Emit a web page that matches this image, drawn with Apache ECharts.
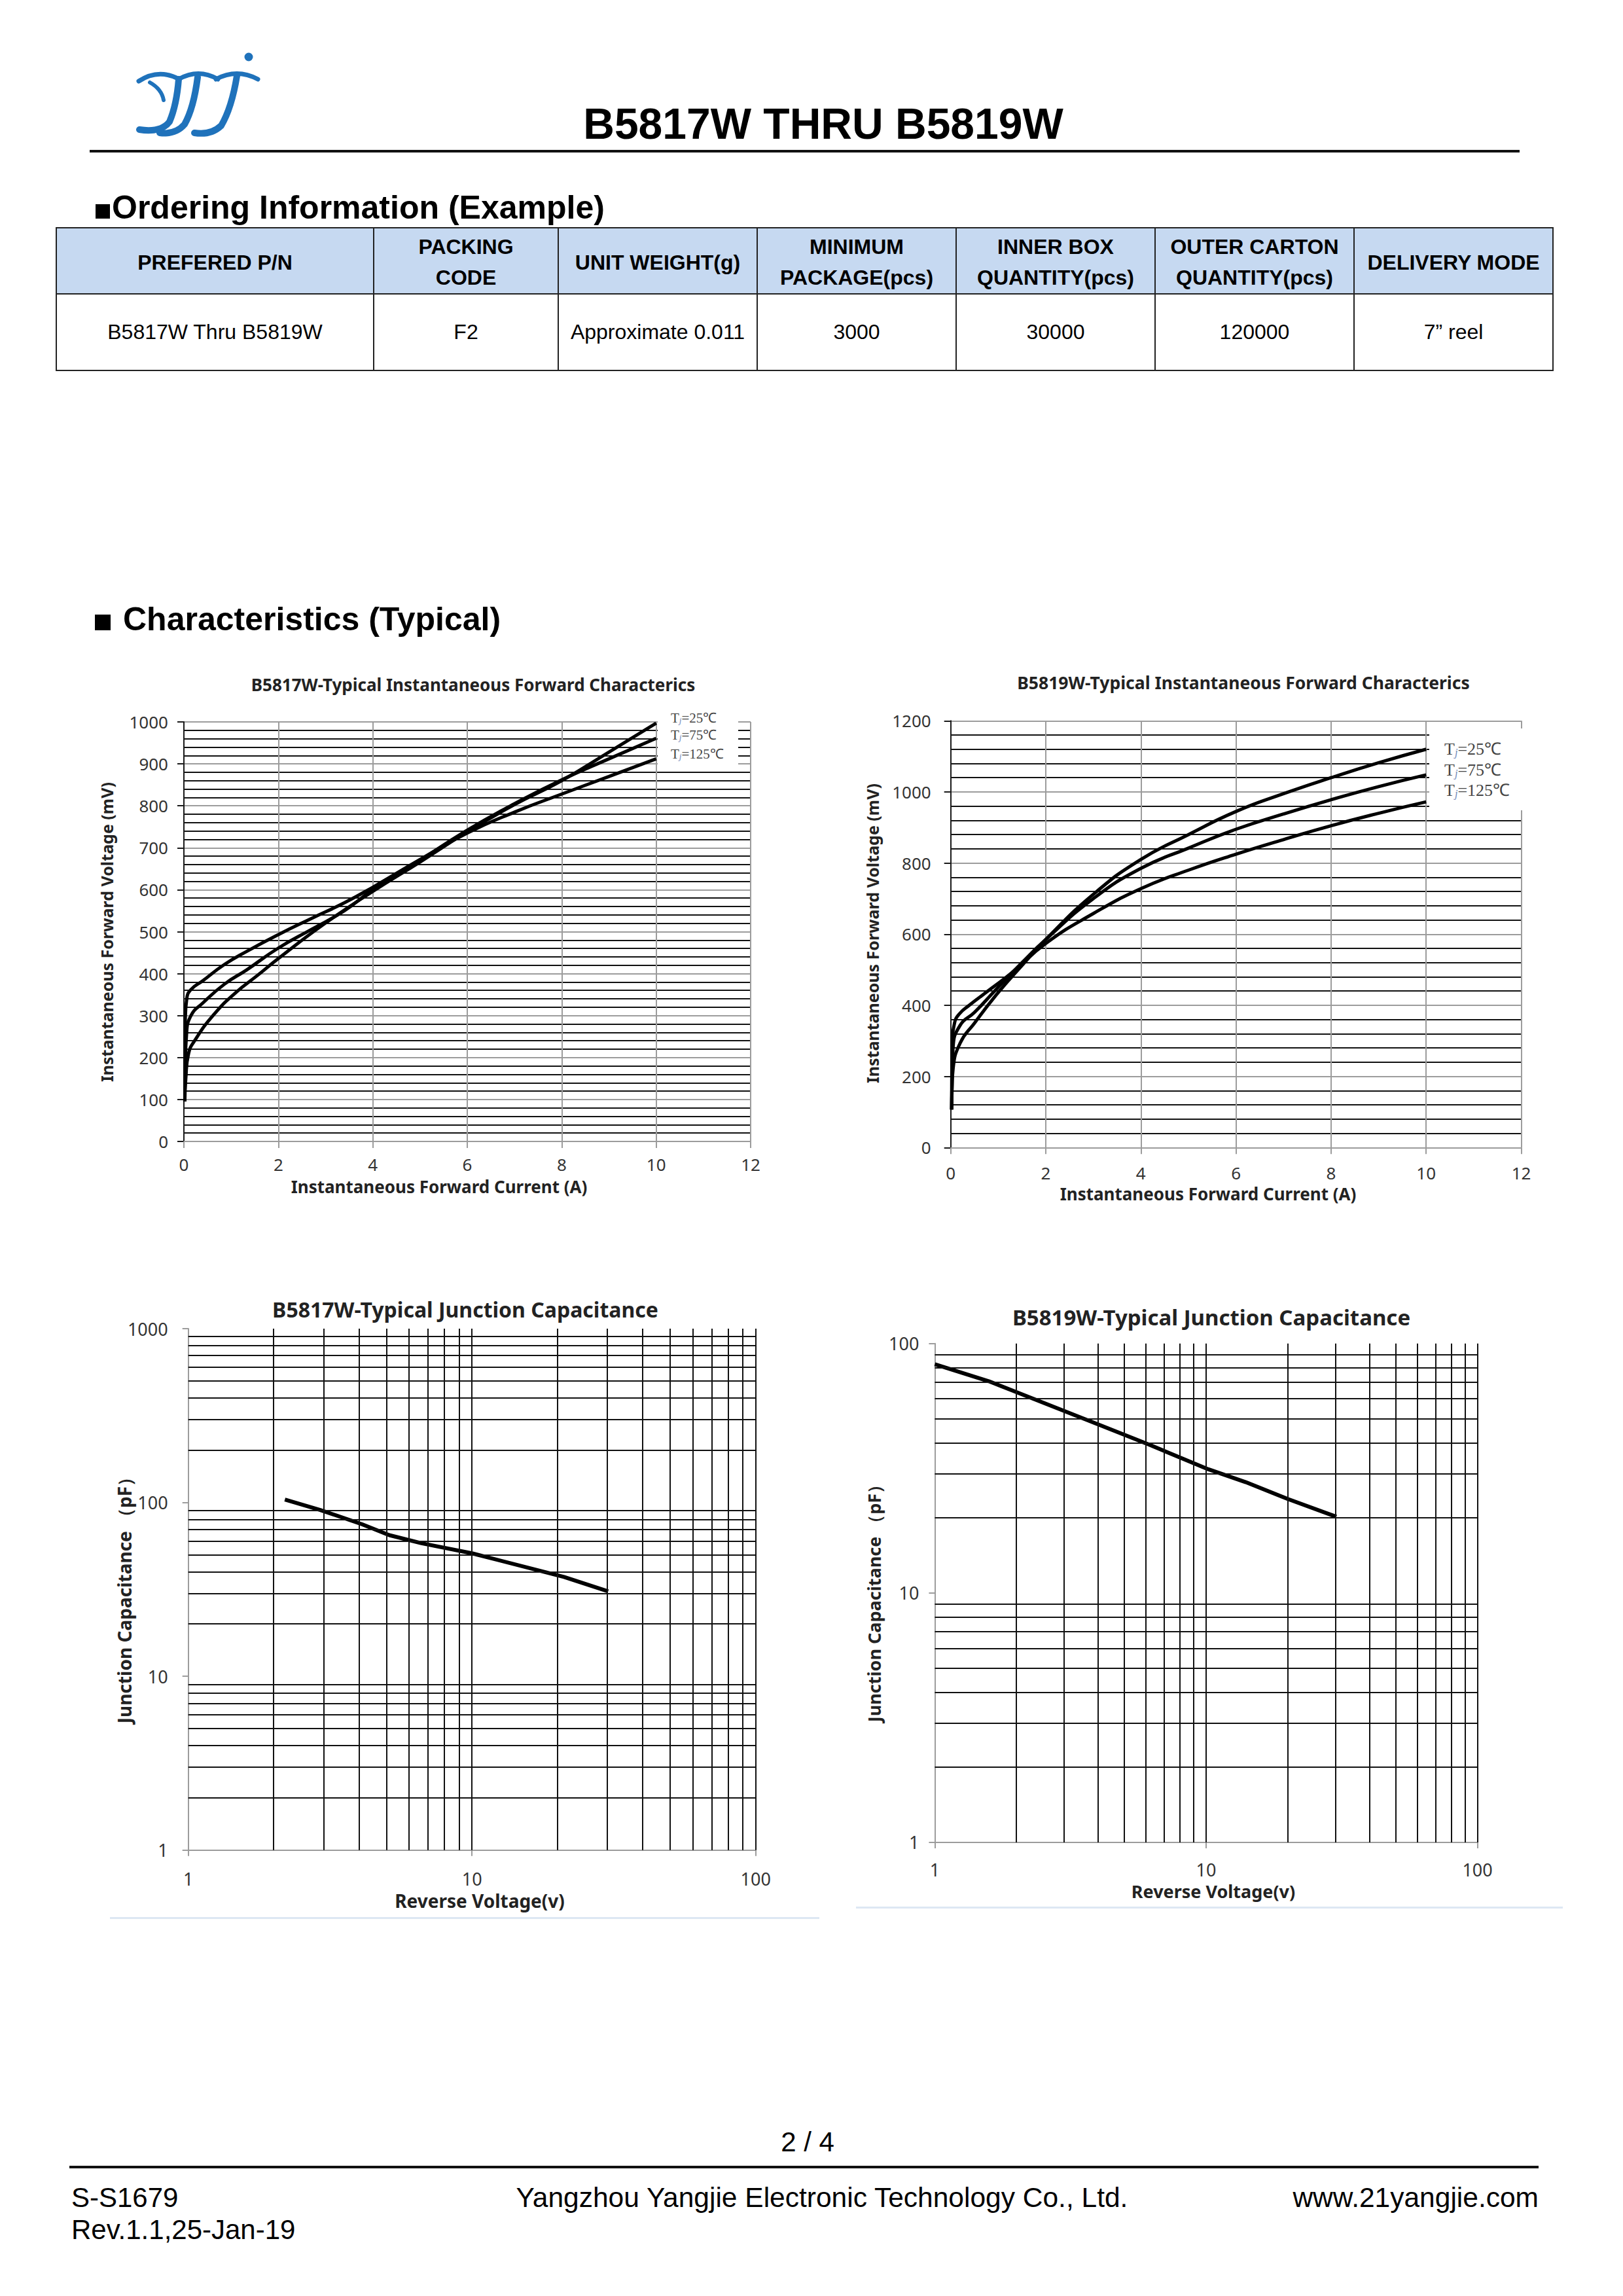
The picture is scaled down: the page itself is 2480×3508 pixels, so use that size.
<!DOCTYPE html>
<html>
<head>
<meta charset="utf-8">
<script src="https://cdn.jsdelivr.net/npm/echarts@6/dist/echarts.min.js"></script>
<style>
html,body{margin:0;padding:0;background:#fff;}
#page{position:relative;width:2480px;height:3508px;overflow:hidden;background:#fff;font-family:"Liberation Sans",Arial,sans-serif;color:#000;}
#chart{position:absolute;left:0;top:0;width:2480px;height:3508px;z-index:1;}
.t{position:absolute;white-space:nowrap;line-height:1;z-index:3;}
.c{transform:translate(-50%,-50%);}
.l{transform:translate(0,-50%);}
.r{transform:translate(-100%,-50%);}
.v{transform:translate(-50%,-50%) rotate(-90deg);}
.ct{font-family:"Noto Sans",sans-serif;font-weight:bold;color:#222;}
.lg{font-family:"Liberation Serif",serif;color:#444;}
.lg .j{font-size:0.62em;font-style:italic;color:#6d88b8;vertical-align:-0.15em;}
.box{position:absolute;background:#fff;z-index:2;}
.rule{position:absolute;z-index:3;}
#tbl{position:absolute;left:85px;top:347px;border-collapse:collapse;z-index:3;font-family:"Liberation Sans",Arial,sans-serif;}
#tbl td{border:2px solid #222;text-align:center;vertical-align:middle;padding:0;font-size:32px;box-sizing:border-box;}
#tbl tr.h td{background:#c6d9f1;font-weight:bold;height:100px;padding-top:5px;line-height:47px;}
#tbl tr.d td{height:117px;}
.sq{display:inline-block;background:#000;}
</style>
</head>
<body>
<div id="page">
  <div id="chart"></div>

  <svg style="position:absolute;left:0;top:0;z-index:3" width="420" height="230" viewBox="0 0 420 230">
    <g fill="none" stroke="#1f72bb" stroke-linecap="round">
      <path d="M212 124 Q242 104 274 121" stroke-width="7"/>
      <path d="M229 126 Q247 136 250 153" stroke-width="6"/>
      <path d="M273 121 Q270 160 259 186 Q246 203 213 198" stroke-width="10"/>
      <path d="M273 121 Q303 104 333 121" stroke-width="7"/>
      <path d="M302 118 Q296 165 282 190 Q268 206 244 203" stroke-width="10"/>
      <path d="M330 121 Q362 104 394 121" stroke-width="7"/>
      <path d="M362 116 Q354 165 338 192 Q322 207 297 203" stroke-width="10"/>
    </g>
    <circle cx="380" cy="87" r="6.5" fill="#1f72bb"/>
  </svg>

  <div class="t c" style="left:1258px;top:189px;font-size:66px;font-weight:bold;">B5817W THRU B5819W</div>
  <div class="rule" style="left:137px;top:229px;width:2185px;height:4px;background:#111;"></div>

  <div class="t l" style="left:146px;top:317px;font-size:50px;font-weight:bold;"><span class="sq" style="width:22px;height:22px;margin-right:3px;"></span>Ordering Information (Example)</div>

  <table id="tbl"></table>

  <div class="t l" style="left:145px;top:946px;font-size:50px;font-weight:bold;"><span class="sq" style="width:24px;height:24px;margin-right:19px;"></span>Characteristics (Typical)</div>

  <!-- chart titles and axis titles -->
  <div class="t c ct" style="left:723px;top:1046px;font-size:26px;">B5817W-Typical Instantaneous Forward Characterics</div>
  <div class="t c ct" style="left:671px;top:1813px;font-size:26px;">Instantaneous Forward Current (A)</div>
  <div class="t v ct" style="left:163px;top:1424px;font-size:25px;">Instantaneous Forward Voltage (mV)</div>

  <div class="t c ct" style="left:1900px;top:1043px;font-size:26.5px;">B5819W-Typical Instantaneous Forward Characterics</div>
  <div class="t c ct" style="left:1846px;top:1824px;font-size:26px;">Instantaneous Forward Current (A)</div>
  <div class="t v ct" style="left:1333px;top:1426px;font-size:25px;">Instantaneous Forward Voltage (mV)</div>

  <div class="t c ct" style="left:711px;top:2001px;font-size:32px;">B5817W-Typical Junction Capacitance</div>
  <div class="t c ct" style="left:733px;top:2904px;font-size:28px;">Reverse Voltage(v)</div>
  <div class="t v ct" style="left:190px;top:2438px;font-size:28px;">Junction Capacitance （pF）</div>

  <div class="t c ct" style="left:1851px;top:2012px;font-size:33px;">B5819W-Typical Junction Capacitance</div>
  <div class="t c ct" style="left:1854px;top:2889px;font-size:27px;">Reverse Voltage(v)</div>
  <div class="t v ct" style="left:1335px;top:2443px;font-size:27px;">Junction Capacitance （pF）</div>

  <!-- legend boxes -->
  <div class="box" style="left:1005px;top:1088px;width:123px;height:81px;"></div>
  <div class="box" style="left:2184px;top:1113px;width:148px;height:125px;"></div>
  <div id="lg1"></div>
  <div id="lg2"></div>

  <div class="rule" style="left:168px;top:2929px;width:1084px;height:3px;background:#dde7f3;"></div>
  <div class="rule" style="left:1308px;top:2913px;width:1080px;height:3px;background:#dde7f3;"></div>

  <!-- footer -->
  <div class="t c" style="left:1234px;top:3273px;font-size:42px;">2 / 4</div>
  <div class="rule" style="left:106px;top:3309px;width:2245px;height:4px;background:#111;"></div>
  <div class="t l" style="left:109px;top:3358px;font-size:42px;">S-S1679</div>
  <div class="t l" style="left:109px;top:3407px;font-size:42px;">Rev.1.1,25-Jan-19</div>
  <div class="t c" style="left:1256px;top:3358px;font-size:42.5px;">Yangzhou Yangjie Electronic Technology Co., Ltd.</div>
  <div class="t r" style="left:2351px;top:3358px;font-size:42.5px;">www.21yangjie.com</div>
</div>

<script>
// ---------------- table data ----------------
const orderingHeaders = ['PREFERED P/N', 'PACKING<br>CODE', 'UNIT WEIGHT(g)', 'MINIMUM<br>PACKAGE(pcs)', 'INNER BOX<br>QUANTITY(pcs)', 'OUTER CARTON<br>QUANTITY(pcs)', 'DELIVERY MODE'];
const orderingRow = ['B5817W Thru B5819W', 'F2', 'Approximate 0.011', '3000', '30000', '120000', '7\u201D reel'];
const orderingColWidths = [485, 282, 304, 304, 304, 304, 304];

// ---------------- legend labels ----------------
const tjLabels = ['25\u2103', '75\u2103', '125\u2103'];

// ---------------- forward characteristics (I in A, Vf in mV) ----------------
const fwdCurrentTicks = [0, 2, 4, 6, 8, 10, 12];
const b5817wTj25 = [[0.02,95],[0.04,150],[0.1,210],[0.22,239],[0.63,302],[1.09,354],[1.56,396],[2.0,436],[2.94,516],[4.0,596],[5.0,666],[6.0,738],[7.0,803],[8.0,860],[9.0,928],[10.0,997]];
const b5817wTj75 = [[0.02,95],[0.03,180],[0.055,254],[0.15,300],[0.4,330],[0.86,375],[1.33,409],[2.0,461],[2.71,506],[3.4,550],[4.0,600],[5.0,670],[6.0,742],[7.0,805],[8.0,862],[9.0,912],[10.0,961]];
const b5817wTj125 = [[0.02,95],[0.025,200],[0.03,290],[0.06,340],[0.15,362],[0.4,383],[0.86,422],[1.33,453],[2.0,493],[2.71,532],[3.4,569],[4.0,606],[5.0,672],[6.0,735],[7.0,785],[8.0,828],[9.0,870],[10.0,912]];

const b5819wTj25 = [[0.02,107],[0.03,170],[0.05,221],[0.2,294],[0.5,350],[1.0,436],[1.5,512],[2.0,585],[3.0,712],[4.0,810],[5.0,880],[6.0,945],[7.0,995],[8.0,1040],[9.0,1082],[10.0,1120]];
const b5819wTj75 = [[0.02,107],[0.03,200],[0.05,282],[0.2,344],[0.5,380],[1.0,451],[1.5,520],[2.0,585],[3.0,700],[4.0,785],[5.0,842],[6.0,895],[7.0,938],[8.0,978],[9.0,1015],[10.0,1048]];
const b5819wTj125 = [[0.02,107],[0.03,282],[0.08,350],[0.19,377],[0.38,399],[0.83,445],[1.29,492],[2.0,574],[3.0,658],[4.0,728],[5.0,780],[6.0,825],[7.0,866],[8.0,905],[9.0,940],[10.0,972]];

// ---------------- junction capacitance (Vr in V, Cj in pF) ----------------
const b5817wCapVr = [2.19, 2.92, 4.09, 5.11, 6.64, 10, 21.1, 30.2];
const b5817wCapPf = [104, 90.5, 75, 64.9, 58.3, 51, 37.3, 30.8];
const b5819wCapVr = [1.0, 1.58, 2.0, 3.86, 6.17, 10.2, 14, 20, 30.2];
const b5819wCapPf = [82.6, 70.6, 63.8, 48.1, 39.3, 31.3, 27.8, 23.8, 20.2];

// log grid minor lines
const logMinorX = [2,3,4,5,6,7,8,9,10,20,30,40,50,60,70,80,90,100];
const logMinorY3 = [2,3,4,5,6,7,8,9,20,30,40,50,60,70,80,90,200,300,400,500,600,700,800,900];
const logMinorY4 = [2,3,4,5,6,7,8,9,20,30,40,50,60,70,80,90];

// ---------------- build table ----------------
(function(){
  const t = document.getElementById('tbl');
  let html = '<colgroup>' + orderingColWidths.map(w => '<col style="width:' + w + 'px">').join('') + '</colgroup>';
  html += '<tr class="h">' + orderingHeaders.map(h => '<td>' + h + '</td>').join('') + '</tr>';
  html += '<tr class="d">' + orderingRow.map(h => '<td>' + h + '</td>').join('') + '</tr>';
  t.innerHTML = html;
  t.style.width = orderingColWidths.reduce((a,b)=>a+b,0) + 'px';
  t.style.tableLayout = 'fixed';
})();

// ---------------- legends ----------------
function legendHtml(id, left, tops, size){
  const el = document.getElementById(id);
  el.innerHTML = tjLabels.map((s, i) =>
    '<div class="t l lg" style="left:' + left + 'px;top:' + tops[i] + 'px;font-size:' + size + 'px;">T<span class="j">j</span>=' + s + '</div>'
  ).join('');
}
legendHtml('lg1', 1025, [1097, 1123, 1152], 21);
legendHtml('lg2', 2207, [1145, 1177, 1208], 26);

// ---------------- chart ----------------
const GRAY = '#9c9c9c';
const DARK = '#1a1a1a';
const LABEL = {fontFamily: 'Noto Sans', color: '#333'};

function fwdX(gi, margin){
  return {
    type: 'value', gridIndex: gi, min: fwdCurrentTicks[0], max: fwdCurrentTicks[fwdCurrentTicks.length-1], interval: 2,
    axisLine: {show: true, onZero: false, lineStyle: {color: GRAY, width: 2}},
    axisTick: {show: true, inside: false, length: 10, lineStyle: {color: GRAY, width: 2}},
    axisLabel: Object.assign({show: true, margin: margin, fontSize: 26, showMinLabel: true, showMaxLabel: true, hideOverlap: false, formatter: v => String(v)}, LABEL),
    splitLine: {show: true, lineStyle: {color: GRAY, width: 2}},
    minorTick: {show: false}, minorSplitLine: {show: false}
  };
}
function fwdY(gi, max, interval, margin){
  return {
    type: 'value', gridIndex: gi, min: 0, max: max, interval: interval,
    axisLine: {show: true, onZero: false, lineStyle: {color: DARK, width: 2}},
    axisTick: {show: true, inside: false, length: 10, lineStyle: {color: DARK, width: 2}},
    axisLabel: Object.assign({show: true, margin: margin, fontSize: 26, showMinLabel: true, showMaxLabel: true, hideOverlap: false, formatter: v => String(v)}, LABEL),
    splitLine: {show: true, lineStyle: {color: GRAY, width: 2}},
    minorTick: {show: false, splitNumber: 5},
    minorSplitLine: {show: true, lineStyle: {color: '#111', width: 2}}
  };
}
function logAxis(gi, min, max, margin){
  return {
    type: 'log', logBase: 10, gridIndex: gi, min: min, max: max,
    axisLine: {show: true, onZero: false, lineStyle: {color: GRAY, width: 2}},
    axisTick: {show: true, inside: false, length: 9, lineStyle: {color: GRAY, width: 2}},
    axisLabel: Object.assign({show: true, margin: margin, fontSize: 27, showMinLabel: true, showMaxLabel: true, hideOverlap: false, formatter: v => String(Math.round(v))}, LABEL),
    splitLine: {show: false},
    minorTick: {show: false}, minorSplitLine: {show: false}
  };
}
function fwdSeries(gi, name, data){
  return {
    type: 'line', name: name, xAxisIndex: gi, yAxisIndex: gi, data: data,
    symbol: 'none', showSymbol: false, smooth: 0.5, z: 3, silent: true,
    lineStyle: {color: '#000', width: 5}
  };
}
function logGridSeries(gi, xs, ys, xr, yr){
  const lines = [];
  xs.forEach(v => lines.push([{coord: [v, yr[0]]}, {coord: [v, yr[1]]}]));
  ys.forEach(v => lines.push([{coord: [xr[0], v]}, {coord: [xr[1], v]}]));
  return {
    type: 'line', xAxisIndex: gi, yAxisIndex: gi, data: [[xr[0], yr[0]]],
    symbol: 'none', showSymbol: false, silent: true, z: 1,
    lineStyle: {width: 0, opacity: 0},
    markLine: {
      silent: true, symbol: ['none', 'none'], animation: false,
      label: {show: false}, emphasis: {disabled: true},
      lineStyle: {color: '#111', width: 2, type: 'solid'},
      data: lines
    }
  };
}
function capSeries(gi, xs, ys){
  return {
    type: 'line', xAxisIndex: gi, yAxisIndex: gi, data: xs.map((x, i) => [x, ys[i]]),
    symbol: 'none', showSymbol: false, smooth: false, z: 3, silent: true,
    lineStyle: {color: '#000', width: 6}
  };
}

const chart = echarts.init(document.getElementById('chart'), null, {renderer: 'svg', width: 2480, height: 3508});
const gridBase = {containLabel: false, outerBoundsMode: 'none', show: false};
chart.setOption({
  animation: false,
  backgroundColor: 'transparent',
  textStyle: {fontFamily: 'Noto Sans'},
  grid: [
    Object.assign({left: 281, top: 1103, width: 866, height: 641}, gridBase),
    Object.assign({left: 1452.7, top: 1101.3, width: 871.8, height: 652}, gridBase),
    Object.assign({left: 287.7, top: 2030, width: 867, height: 796.8}, gridBase),
    Object.assign({left: 1428.4, top: 2052.7, width: 829.2, height: 762.2}, gridBase)
  ],
  xAxis: [
    fwdX(0, 22),
    fwdX(1, 26),
    logAxis(2, 1, 100, 30),
    logAxis(3, 1, 100, 28)
  ],
  yAxis: [
    fwdY(0, 1000, 100, 24),
    fwdY(1, 1200, 200, 30),
    logAxis(2, 1, 1000, 31),
    logAxis(3, 1, 100, 24)
  ],
  series: [
    fwdSeries(0, 'Tj=' + tjLabels[0], b5817wTj25),
    fwdSeries(0, 'Tj=' + tjLabels[1], b5817wTj75),
    fwdSeries(0, 'Tj=' + tjLabels[2], b5817wTj125),
    fwdSeries(1, 'Tj=' + tjLabels[0], b5819wTj25),
    fwdSeries(1, 'Tj=' + tjLabels[1], b5819wTj75),
    fwdSeries(1, 'Tj=' + tjLabels[2], b5819wTj125),
    logGridSeries(2, logMinorX, logMinorY3, [1, 100], [1, 1000]),
    logGridSeries(3, logMinorX, logMinorY4, [1, 100], [1, 100]),
    capSeries(2, b5817wCapVr, b5817wCapPf),
    capSeries(3, b5819wCapVr, b5819wCapPf)
  ]
});
</script>
</body>
</html>
